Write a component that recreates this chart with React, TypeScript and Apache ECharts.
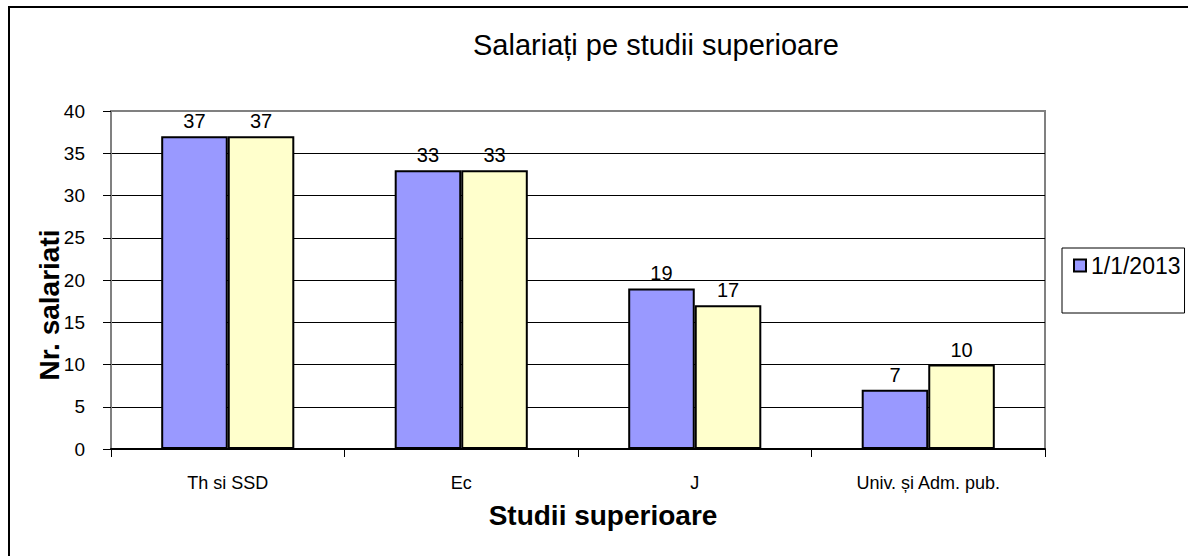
import React, { useEffect, useRef } from "react";
import * as echarts from "echarts";

const categories = ["Th si SSD", "Ec", "J", "Univ. și Adm. pub."];
const seriesNames = ["1/1/2013", "1/1/2014"];
const values2013 = [37, 33, 19, 7];
const values2014 = [37, 33, 17, 10];
const yTicks = { min: 0, max: 40, interval: 5 };
const titleText = "Salariați pe studii superioare";
const xName = "Studii superioare";
const yName = "Nr. salariati";

const FONT = "'Liberation Sans', Arial, sans-serif";

export default function App() {
  const ref = useRef<HTMLDivElement>(null);
  useEffect(() => {
    if (!ref.current) return;
    const chart = echarts.init(ref.current, undefined, { renderer: "svg" });
    const splitColors = ["#000", "#000", "#000", "#000", "#000", "#000", "#000", "#000", "#808080"];
    const labelCfg = {
      show: true,
      position: "top",
      distance: 5,
      color: "#000",
      fontSize: 20,
      fontFamily: FONT,
    };
    chart.setOption({
      animation: false,
      backgroundColor: "#fff",
      textStyle: { fontFamily: FONT, color: "#000" },
      title: {
        text: titleText,
        left: 656,
        top: 30,
        textAlign: "center",
        padding: 0,
        textStyle: { fontSize: 29, fontWeight: "normal", color: "#000", fontFamily: FONT },
      },
      graphic: [
        {
          type: "rect",
          shape: { x: 9, y: 7, width: 1400, height: 800 },
          style: { fill: "none", stroke: "#000", lineWidth: 2 },
          silent: true,
          z: 100,
        },
      ],
      legend: {
        data: [seriesNames[0]],
        left: 1062,
        top: 248,
        orient: "vertical",
        padding: [6, 4, 36, 11],
        borderColor: "#000",
        borderWidth: 1,
        itemWidth: 12,
        itemHeight: 12,
        icon: "rect",
        textStyle: { fontSize: 23, color: "#000", fontFamily: FONT },
      },
      grid: {
        left: 111,
        right: 143,
        top: 111,
        bottom: 107,
        show: true,
        borderColor: "#808080",
        borderWidth: 2,
        containLabel: false,
      },
      xAxis: {
        type: "category",
        data: categories,
        name: xName,
        nameLocation: "middle",
        nameGap: 52,
        nameMoveOverlap: false,
        nameTextStyle: {
          fontSize: 28,
          fontWeight: "bold",
          color: "#000",
          fontFamily: FONT,
          padding: [0, 0, 0, 50],
        },
        axisLine: { show: true, lineStyle: { color: "#000", width: 2 } },
        axisTick: { show: true, length: 8, lineStyle: { color: "#000" } },
        axisLabel: { fontSize: 18, color: "#000", margin: 25, interval: 0, fontFamily: FONT },
        splitLine: { show: false },
      },
      yAxis: {
        type: "value",
        min: yTicks.min,
        max: yTicks.max,
        interval: yTicks.interval,
        name: yName,
        nameLocation: "middle",
        nameGap: 48,
        nameMoveOverlap: false,
        nameTextStyle: {
          fontSize: 28,
          fontWeight: "bold",
          color: "#000",
          fontFamily: FONT,
          padding: [0, 50, 0, 0],
        },
        axisLine: { show: true, lineStyle: { color: "#808080", width: 1 } },
        axisTick: { show: true, inside: false, length: 8, lineStyle: { color: "#000" } },
        axisLabel: { fontSize: 19, color: "#000", margin: 26, fontFamily: FONT },
        splitLine: { show: true, lineStyle: { color: splitColors, width: 1 } },
      },
      series: [
        {
          name: seriesNames[0],
          type: "bar",
          data: values2013,
          barGap: "0%",
          barCategoryGap: "43%",
          itemStyle: { color: "#9999ff", borderColor: "#000", borderWidth: 2 },
          label: labelCfg,
        },
        {
          name: seriesNames[1],
          type: "bar",
          data: values2014,
          barGap: "0%",
          barCategoryGap: "43%",
          itemStyle: { color: "#ffffcc", borderColor: "#000", borderWidth: 2 },
          label: labelCfg,
        },
      ],
    });
    return () => chart.dispose();
  }, []);
  return (
    <div
      ref={ref}
      style={{ position: "absolute", left: 0, top: 0, width: 1188, height: 556 }}
    />
  );
}
